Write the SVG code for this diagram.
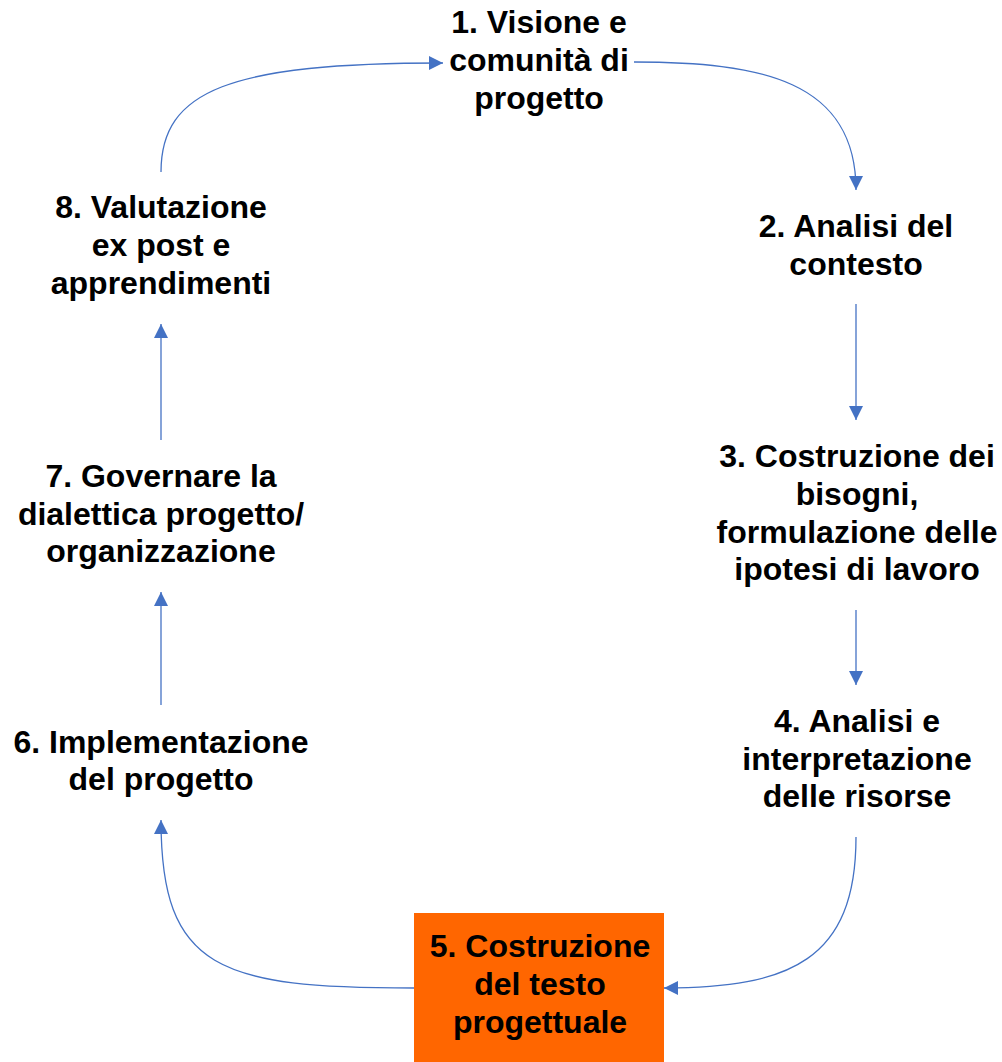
<svg xmlns="http://www.w3.org/2000/svg" width="1002" height="1062" viewBox="0 0 1002 1062">
<style>
  .t { font-family: "Liberation Sans", Arial, sans-serif; font-weight: bold; font-size: 32px; fill: #000; text-anchor: middle; }
  .c { fill: none; stroke: #4472C4; stroke-width: 1.3; }
</style>
<defs>
  <marker id="ah" markerUnits="userSpaceOnUse" markerWidth="15" markerHeight="15" refX="14" refY="7" orient="auto">
    <path d="M0,0 L14,7 L0,14 z" fill="#4472C4"/>
  </marker>
</defs>
<rect width="1002" height="1062" fill="#fff"/>
<g id="connectors">
  <path class="c" marker-end="url(#ah)" d="M161,172 C161,90 230,63 443,63"/>
  <path class="c" marker-end="url(#ah)" d="M634,62 C760,62 856,80 856,190"/>
  <path class="c" marker-end="url(#ah)" d="M856,304 L856,420"/>
  <path class="c" marker-end="url(#ah)" d="M856,610 L856,685"/>
  <path class="c" marker-end="url(#ah)" d="M856,837 C856,960 790,988 664,988"/>
  <path class="c" marker-end="url(#ah)" d="M414,988 C220,988 161,970 161,820"/>
  <path class="c" marker-end="url(#ah)" d="M161,705 L161,592"/>
  <path class="c" marker-end="url(#ah)" d="M161,440 L161,324"/>
</g>
<g id="node1">
  <text class="t" x="539" y="33">1. Visione e</text>
  <text class="t" x="539" y="71">comunità di</text>
  <text class="t" x="539" y="109">progetto</text>
</g>
<g id="node2">
  <text class="t" x="856" y="237">2. Analisi del</text>
  <text class="t" x="856" y="275">contesto</text>
</g>
<g id="node3">
  <text class="t" x="857" y="467">3. Costruzione dei</text>
  <text class="t" x="857" y="505">bisogni,</text>
  <text class="t" x="857" y="543">formulazione delle</text>
  <text class="t" x="857" y="580">ipotesi di lavoro</text>
</g>
<g id="node4">
  <text class="t" x="857" y="732">4. Analisi e</text>
  <text class="t" x="857" y="770">interpretazione</text>
  <text class="t" x="857" y="807">delle risorse</text>
</g>
<g id="node5">
  <rect x="414" y="913" width="250" height="149" fill="#FF6600"/>
  <text class="t" x="540" y="957">5. Costruzione</text>
  <text class="t" x="540" y="995">del testo</text>
  <text class="t" x="540" y="1033">progettuale</text>
</g>
<g id="node6">
  <text class="t" x="161" y="753">6. Implementazione</text>
  <text class="t" x="161" y="790">del progetto</text>
</g>
<g id="node7">
  <text class="t" x="161" y="487">7. Governare la</text>
  <text class="t" x="161" y="525">dialettica progetto/</text>
  <text class="t" x="161" y="562">organizzazione</text>
</g>
<g id="node8">
  <text class="t" x="161" y="218">8. Valutazione</text>
  <text class="t" x="161" y="256">ex post e</text>
  <text class="t" x="161" y="294">apprendimenti</text>
</g>
</svg>
